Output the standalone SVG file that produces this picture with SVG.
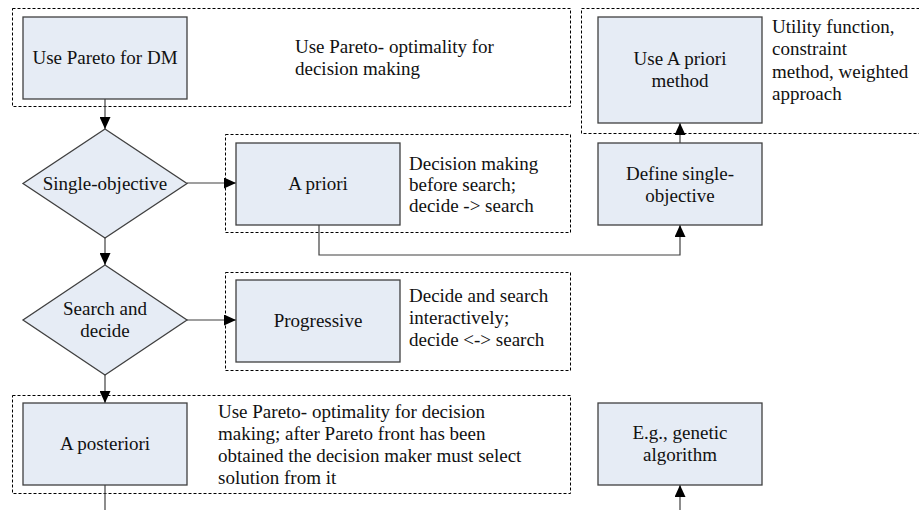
<svg xmlns="http://www.w3.org/2000/svg" width="919" height="510" viewBox="0 0 919 510">
  <defs>
    <marker id="arrow" viewBox="0 0 12 11" refX="12" refY="5.5" markerWidth="12" markerHeight="11" markerUnits="userSpaceOnUse" orient="auto">
      <path d="M0,0 L12,5.5 L0,11 Z" fill="#000"/>
    </marker>
    <style>
      .frame { fill: none; stroke: #000; stroke-width: 1; stroke-dasharray: 3 2; }
      .node { fill: #E6ECF5; stroke: #404040; stroke-width: 1.3; }
      .link { fill: none; stroke: #404040; stroke-width: 1.2; }
      .t { font-family: "Liberation Serif", "DejaVu Serif", serif; font-size: 19px; fill: #111; }
      .c { text-anchor: middle; }
    </style>
  </defs>
  <rect width="919" height="510" fill="#fff"/>

  <!-- dashed grouping frames around each step and its note -->
  <g id="frames">
    <rect class="frame" x="12.5" y="8.5" width="558" height="98"/>
    <rect class="frame" x="225.5" y="134.5" width="345" height="98"/>
    <rect class="frame" x="581.5" y="8.5" width="345" height="125"/>
    <rect class="frame" x="225.5" y="272.5" width="345" height="98"/>
    <rect class="frame" x="12.5" y="395.5" width="558" height="98"/>
  </g>

  <!-- connectors -->
  <g id="connectors">
    <path class="link" d="M105,99 V129" marker-end="url(#arrow)"/>
    <path class="link" d="M187,183 H236" marker-end="url(#arrow)"/>
    <path class="link" d="M319,225 V255 H680 V225" marker-end="url(#arrow)"/>
    <path class="link" d="M680,143 V123" marker-end="url(#arrow)"/>
    <path class="link" d="M105,238 V265" marker-end="url(#arrow)"/>
    <path class="link" d="M187,320 H236" marker-end="url(#arrow)"/>
    <path class="link" d="M105,375 V403" marker-end="url(#arrow)"/>
    <path class="link" d="M105,485 V510"/>
    <path class="link" d="M680,510 V485" marker-end="url(#arrow)"/>
  </g>

  <g id="use-pareto" class="t">
    <rect class="node" x="23" y="17" width="164" height="82"/>
    <text class="c" x="105" y="64">Use Pareto for DM</text>
  </g>
  <g id="use-pareto-note" class="t">
    <text x="295" y="53">Use Pareto- optimality for</text>
    <text x="295" y="75">decision making</text>
  </g>

  <g id="single-objective" class="t">
    <polygon class="node" points="105,129 187,183.5 105,238 23,183.5"/>
    <text class="c" x="105" y="190">Single-objective</text>
  </g>

  <g id="a-priori" class="t">
    <rect class="node" x="236" y="143" width="164" height="82"/>
    <text class="c" x="318" y="190">A priori</text>
  </g>
  <g id="a-priori-note" class="t">
    <text x="409" y="170">Decision making</text>
    <text x="409" y="191">before search;</text>
    <text x="409" y="212">decide -&gt; search</text>
  </g>

  <g id="define-single" class="t">
    <rect class="node" x="598" y="143" width="164" height="82"/>
    <text class="c" x="680" y="180">Define single-</text>
    <text class="c" x="680" y="202">objective</text>
  </g>

  <g id="use-a-priori" class="t">
    <rect class="node" x="598" y="17" width="164" height="106"/>
    <text class="c" x="680" y="65">Use A priori</text>
    <text class="c" x="680" y="87">method</text>
  </g>
  <g id="use-a-priori-note" class="t">
    <text x="772" y="33">Utility function,</text>
    <text x="772" y="55">constraint</text>
    <text x="772" y="78">method, weighted</text>
    <text x="772" y="100">approach</text>
  </g>

  <g id="search-and-decide" class="t">
    <polygon class="node" points="105,265 187,320 105,375 23,320"/>
    <text class="c" x="105" y="315">Search and</text>
    <text class="c" x="105" y="337">decide</text>
  </g>

  <g id="progressive" class="t">
    <rect class="node" x="236" y="280" width="164" height="82"/>
    <text class="c" x="318" y="327">Progressive</text>
  </g>
  <g id="progressive-note" class="t">
    <text x="409" y="302">Decide and search</text>
    <text x="409" y="324">interactively;</text>
    <text x="409" y="346">decide &lt;-&gt; search</text>
  </g>

  <g id="a-posteriori" class="t">
    <rect class="node" x="23" y="403" width="164" height="82"/>
    <text class="c" x="105" y="450">A posteriori</text>
  </g>
  <g id="a-posteriori-note" class="t">
    <text x="218" y="418">Use Pareto- optimality for decision</text>
    <text x="218" y="440">making; after Pareto front has been</text>
    <text x="218" y="462">obtained the decision maker must select</text>
    <text x="218" y="484">solution from it</text>
  </g>

  <g id="genetic-algorithm" class="t">
    <rect class="node" x="598" y="403" width="164" height="82"/>
    <text class="c" x="680" y="439">E.g., genetic</text>
    <text class="c" x="680" y="461">algorithm</text>
  </g>
</svg>
